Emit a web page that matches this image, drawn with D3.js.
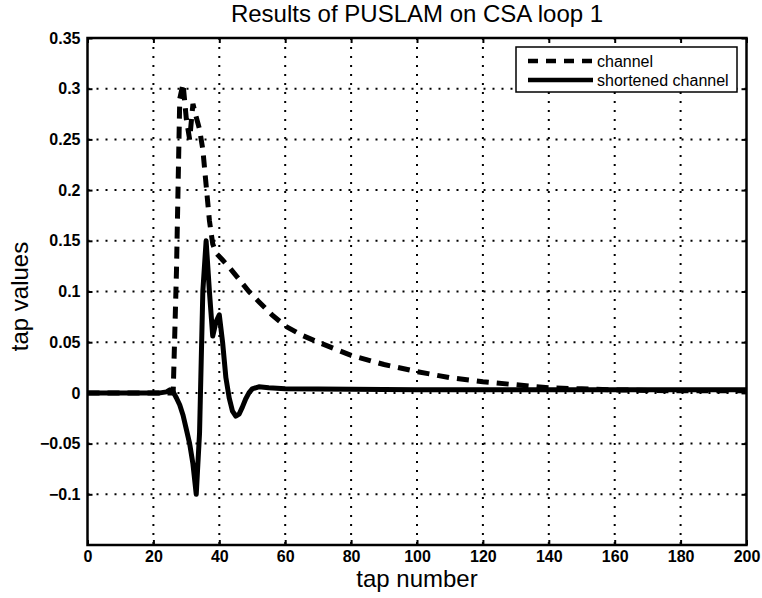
<!DOCTYPE html>
<html>
<meta charset="utf-8">
<script src="https://d3js.org/d3.v7.min.js"></script>
<style>
  body { margin: 0; background: #fff; }
  text { font-family: "Liberation Sans", Arial, sans-serif; fill: #000; }
</style>
<body>
<div id="my_dataviz"></div>
<script>
// tick values
var xTicks = [0, 20, 40, 60, 80, 100, 120, 140, 160, 180, 200];
var yTicks = [-0.1, -0.05, 0, 0.05, 0.1, 0.15, 0.2, 0.25, 0.3, 0.35];
var yTickLabels = ["\u22120.1", "\u22120.05", "0", "0.05", "0.1", "0.15", "0.2", "0.25", "0.3", "0.35"];

// channel (dashed)
var channelX = [0, 26, 27, 28, 29, 30, 31, 32, 33, 34, 35, 36, 37, 38, 39, 41, 43, 46, 49, 52, 56, 60, 65, 70, 80, 90, 100, 110, 120, 130, 140, 150, 160, 180, 200];
var channelY = [0, 0, 0.12, 0.29, 0.305, 0.27, 0.25, 0.285, 0.272, 0.26, 0.24, 0.205, 0.17, 0.147, 0.138, 0.131, 0.124, 0.112, 0.1, 0.09, 0.077, 0.066, 0.057, 0.05, 0.037, 0.028, 0.021, 0.015, 0.011, 0.008, 0.005, 0.004, 0.003, 0.002, 0.002];

// shortened channel (solid)
var shortX = [0, 22, 24, 25, 26, 27, 28, 29, 30, 31, 32, 33, 34, 35, 36, 37, 38, 39, 40, 41, 42, 43, 44, 45, 46, 47, 48, 49, 50, 52, 55, 60, 100, 150, 200];
var shortY = [0, 0, 0.001, 0.003, 0.001, -0.005, -0.012, -0.022, -0.036, -0.05, -0.07, -0.1, -0.04, 0.1, 0.15, 0.1, 0.056, 0.07, 0.077, 0.05, 0.015, -0.005, -0.018, -0.023, -0.021, -0.014, -0.006, 0, 0.004, 0.006, 0.005, 0.004, 0.003, 0.003, 0.003];

var margin = {top: 38, right: 15.5, bottom: 53, left: 87.5},
    width = 762 - margin.left - margin.right,
    height = 598 - margin.top - margin.bottom;

var svg = d3.select("#my_dataviz")
  .append("svg")
    .attr("width", 762)
    .attr("height", 598)
  .append("g")
    .attr("transform", "translate(" + margin.left + "," + margin.top + ")");

var x = d3.scaleLinear().domain([0, 200]).range([0, width]);
var y = d3.scaleLinear().domain([-0.15, 0.35]).range([height, 0]);

// grid
svg.append("g").selectAll("line")
  .data(xTicks.slice(1, -1))
  .enter().append("line")
    .attr("x1", function(d) { return x(d); })
    .attr("x2", function(d) { return x(d); })
    .attr("y1", 0).attr("y2", height)
    .attr("stroke", "#000").attr("stroke-width", 2)
    .attr("stroke-dasharray", "2,7");
svg.append("g").selectAll("line")
  .data(yTicks)
  .enter().append("line")
    .attr("y1", function(d) { return y(d); })
    .attr("y2", function(d) { return y(d); })
    .attr("x1", 0).attr("x2", width)
    .attr("stroke", "#000").attr("stroke-width", 2)
    .attr("stroke-dasharray", "2,7");

// axes
svg.append("g")
  .attr("transform", "translate(0," + height + ")")
  .call(d3.axisBottom(x).tickValues(xTicks).tickSize(-5).tickPadding(6));
svg.append("g")
  .call(d3.axisLeft(y).tickValues(yTicks).tickSize(-5).tickPadding(7)
    .tickFormat(function(d, i) { return yTickLabels[i]; }));
svg.append("g")
  .call(d3.axisTop(x).tickValues(xTicks).tickSize(-5).tickFormat(""));
svg.append("g")
  .attr("transform", "translate(" + width + ",0)")
  .call(d3.axisRight(y).tickValues(yTicks).tickSize(-5).tickFormat(""));
svg.selectAll(".domain").remove();
svg.selectAll(".tick line").attr("stroke", "#000").attr("stroke-width", 2);
svg.selectAll(".tick text")
  .style("font-family", "Liberation Sans, Arial, sans-serif")
  .style("font-size", "16px")
  .style("font-weight", "bold");

// frame
svg.append("rect")
  .attr("width", width).attr("height", height)
  .attr("fill", "none").attr("stroke", "#000").attr("stroke-width", 2.5);

// lines
var lineChannel = d3.line()
  .x(function(d, i) { return x(channelX[i]); })
  .y(function(d) { return y(d); });
var lineShort = d3.line()
  .x(function(d, i) { return x(shortX[i]); })
  .y(function(d) { return y(d); });

svg.append("path")
  .datum(channelY)
  .attr("fill", "none").attr("stroke", "#000")
  .attr("stroke-width", 5).attr("stroke-dasharray", "12,8")
  .attr("d", lineChannel);
svg.append("path")
  .datum(shortY)
  .attr("fill", "none").attr("stroke", "#000")
  .attr("stroke-width", 5).attr("stroke-linejoin", "round")
  .attr("d", lineShort);

// titles
svg.append("text")
  .attr("x", width / 2).attr("y", -16)
  .attr("text-anchor", "middle")
  .style("font-size", "24px")
  .text("Results of PUSLAM on CSA loop 1");
svg.append("text")
  .attr("x", width / 2).attr("y", height + 42)
  .attr("text-anchor", "middle")
  .style("font-size", "24px")
  .text("tap number");
svg.append("text")
  .attr("transform", "rotate(-90)")
  .attr("x", -(y(0.1) + 5)).attr("y", -60)
  .attr("text-anchor", "middle")
  .style("font-size", "24px")
  .text("tap values");

// legend
var leg = svg.append("g").attr("transform", "translate(" + (516 - margin.left) + "," + (47 - margin.top) + ")");
leg.append("rect")
  .attr("width", 221).attr("height", 45)
  .attr("fill", "#fff").attr("stroke", "#000").attr("stroke-width", 1.5);
var legItems = ["channel", "shortened channel"];
var legDash = ["10,8", null];
leg.selectAll("g.item")
  .data(legItems)
  .enter().append("g")
    .attr("class", "item")
    .attr("transform", function(d, i) { return "translate(0," + (14 + i * 19) + ")"; })
    .each(function(d, i) {
      var g = d3.select(this);
      g.append("line").attr("x1", 12).attr("x2", 77)
        .attr("stroke", "#000").attr("stroke-width", 4.5)
        .attr("stroke-dasharray", legDash[i]);
      g.append("text").attr("x", 81).attr("y", 6)
        .style("font-size", "16px").text(d);
    });
</script>
</body>
</html>
